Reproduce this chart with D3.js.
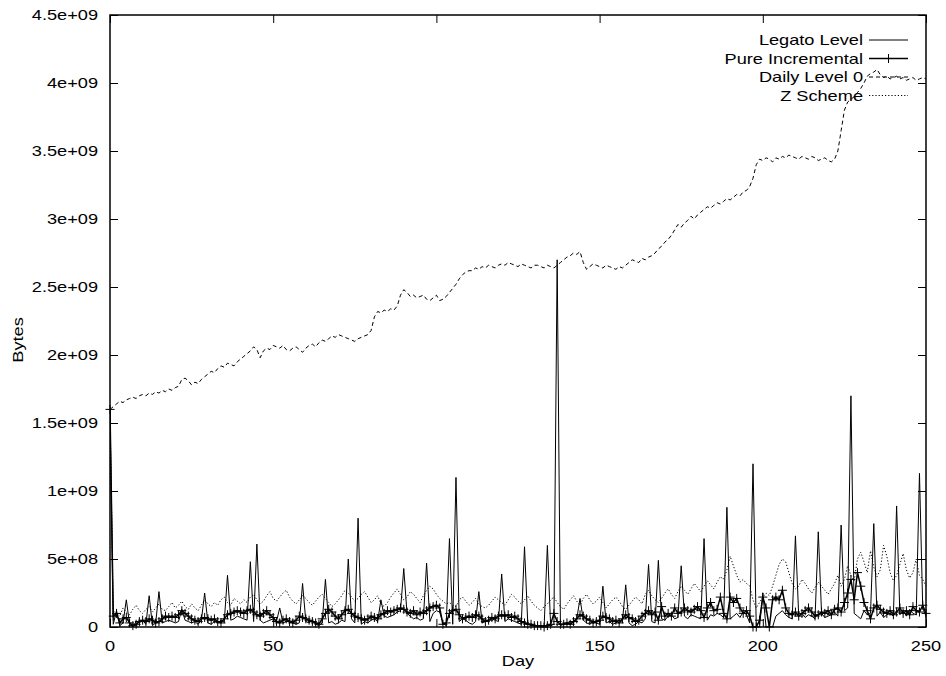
<!DOCTYPE html>
<html>
<head>
<meta charset="utf-8">
<script src="https://cdn.jsdelivr.net/npm/d3@7"></script>
<style>
  body { margin: 0; background: #fff; }
  text { font-family: "Liberation Sans", Arial, sans-serif; font-size: 14px; fill: #000; }
</style>
</head>
<body>
<svg id="chart" width="946" height="676"></svg>
<script>
// values in units of 1e7 bytes, one per day (day 0..250)
var UNIT = 1e7;

var legato = [
  158, 2, 12, 1, 3, 20, 2, 0, 4, 3, 5,
  2, 23, 1, 3, 26, 3, 4, 5, 4, 3,
  4, 13, 5, 4, 3, 4, 2, 5, 25, 3,
  2, 4, 3, 5, 4, 38, 5, 6, 8, 7,
  6, 5, 48, 4, 61, 5, 3, 4, 5, 6,
  4, 14, 3, 4, 5, 3, 2, 3, 32, 4,
  3, 5, 2, 1, 3, 35, 3, 4, 2, 3,
  5, 4, 50, 6, 3, 80, 2, 4, 3, 5,
  6, 4, 20, 8, 7, 8, 9, 11, 12, 43,
  10, 8, 6, 7, 5, 6, 47, 4, 10, 12,
  11, 3, 1, 65, 2, 110, 4, 6, 5, 3,
  2, 4, 26, 3, 4, 5, 6, 5, 4, 39,
  4, 6, 5, 4, 3, 2, 59, 2, 1, 1,
  0, 1, 0, 60, 1, 2, 270, 1, 2, 3,
  4, 3, 6, 21, 5, 3, 2, 4, 3, 2,
  30, 3, 4, 2, 3, 5, 4, 31, 3, 1,
  2, 4, 3, 6, 46, 4, 3, 49, 6, 5,
  8, 9, 6, 7, 45, 8, 6, 9, 8, 7,
  6, 65, 5, 9, 8, 10, 9, 7, 88, 6,
  8, 10, 7, 11, 9, 3, 120, 0, 0, 25,
  0, 0, 0, 8, 10, 12, 9, 7, 6, 67,
  8, 10, 7, 9, 8, 6, 70, 10, 7, 8,
  9, 11, 8, 75, 12, 14, 170, 10, 8, 6,
  12, 9, 10, 76, 8, 11, 7, 9, 10, 8,
  89, 9, 12, 8, 13, 10, 9, 113, 14, 8
];

var pureIncr = [
  160, 8, 10, 3, 6, 7, 3, 1, 2, 4, 5,
  4, 6, 5, 3, 4, 6, 8, 7, 8, 7,
  9, 12, 10, 8, 6, 5, 4, 6, 7, 6,
  5, 6, 4, 3, 6, 9, 10, 11, 12, 11,
  10, 12, 13, 11, 9, 8, 10, 12, 9, 7,
  4, 3, 5, 6, 4, 3, 5, 8, 7, 6,
  5, 4, 3, 2, 6, 10, 13, 11, 8, 6,
  9, 12, 13, 10, 8, 7, 6, 5, 6, 8,
  7, 6, 9, 10, 12, 11, 12, 13, 14, 13,
  11, 10, 12, 9, 11, 10, 12, 14, 15, 16,
  14, 2, 3, 10, 12, 13, 9, 6, 7, 8,
  7, 9, 8, 6, 4, 5, 7, 6, 8, 9,
  8, 9, 7, 8, 6, 4, 3, 2, 2, 1,
  1, 1, 0, 1, 2, 10, 4, 2, 2, 3,
  2, 4, 6, 9, 8, 6, 5, 3, 4, 5,
  8, 7, 6, 4, 5, 3, 6, 9, 7, 6,
  4, 5, 8, 10, 12, 9, 11, 5, 15, 8,
  10, 8, 14, 10, 11, 14, 12, 11, 13, 15,
  12, 7, 14, 18, 12, 13, 22, 10, 6, 22,
  18, 21, 14, 10, 12, 8, 0, 0, 5, 22,
  14, 0, 20, 22, 20, 27, 14, 10, 9, 11,
  8, 10, 12, 14, 11, 8, 9, 11, 10, 12,
  9, 13, 14, 11, 18, 25, 35, 20, 40, 30,
  18, 12, 6, 14, 16, 13, 11, 10, 12, 9,
  11, 14, 10, 12, 9, 15, 12, 11, 16, 10
];

var dailyL0 = [
  160, 162, 164, 166, 165, 167, 168, 169, 168, 170, 171,
  170, 172, 171, 173, 172, 174, 173, 175, 174, 176,
  177, 182, 183, 181, 178, 180, 179, 182, 184, 186,
  188, 187, 190, 192, 191, 194, 193, 192, 195, 197,
  199, 201, 203, 206, 204, 198, 203, 205, 204, 207,
  206, 205, 207, 204, 203, 205, 206, 204, 202, 205,
  207, 208, 206, 209, 211, 210, 212, 214, 213, 215,
  214, 213, 212, 211, 210, 212, 213, 214, 215, 218,
  228, 232, 231, 233, 232, 234, 233, 236, 244, 248,
  246, 243, 244, 242, 243, 244, 241, 240, 242, 244,
  240, 241, 243, 246, 249, 252, 256, 259, 261, 262,
  262, 264, 263, 265, 264, 266, 265, 264, 266, 267,
  266, 268, 267, 266, 265, 267, 266, 265, 264, 266,
  266, 265, 264, 266, 265, 264, 266, 268, 270, 272,
  273, 275, 274, 276, 268, 263, 265, 267, 266, 265,
  264, 266, 265, 264, 263, 265, 264, 266, 268, 270,
  269, 268, 271, 270, 272, 273, 275, 278, 280, 283,
  285, 288, 292, 296, 294, 297, 299, 302, 300, 303,
  305, 307, 309, 308, 310, 312, 311, 313, 315, 314,
  316, 318, 317, 320, 321, 324, 330, 340, 344, 343,
  345, 344, 342, 345, 344, 346, 345, 347, 346, 345,
  344, 346, 345, 344, 346, 345, 343, 344, 345, 343,
  342, 344, 350, 365, 380, 386, 388, 390, 393, 396,
  400, 405, 407, 408, 410, 406, 404, 405, 403, 404,
  405, 403, 404, 402, 403, 404, 402, 403, 404, 403
];

var zScheme = [
  160, 12, 10, 8, 14, 11, 9, 13, 16, 12, 10,
  13, 15, 11, 14, 17, 13, 12, 15, 18, 14,
  16, 19, 15, 13, 17, 14, 12, 16, 20, 17,
  15, 18, 16, 20, 22, 18, 16, 21, 19, 17,
  20, 18, 22, 24, 20, 17, 19, 23, 26, 21,
  19, 22, 25, 27, 22, 19, 17, 20, 23, 21,
  18, 16, 19, 22, 24, 21, 18, 15, 17, 20,
  23, 27, 25, 22, 19, 21, 24, 26, 22, 18,
  20, 23, 17, 15, 18, 22, 25, 28, 24, 20,
  22, 26, 24, 21, 18, 23, 27, 30, 28, 24,
  21, 19, 17, 18, 16, 15, 20, 22, 19, 16,
  18, 21, 17, 15, 14, 16, 19, 22, 20, 18,
  16, 20, 24, 22, 19, 17, 20, 23, 19, 16,
  14, 12, 15, 17, 20, 22, 18, 15, 13, 17,
  20, 23, 19, 16, 21, 24, 20, 17, 19, 22,
  18, 14, 17, 20, 22, 19, 15, 13, 16, 19,
  22, 20, 17, 24, 27, 23, 20, 18, 21, 25,
  28, 24, 21, 26, 30, 27, 24, 28, 32, 29,
  26, 30, 34, 31, 28, 33, 37, 35, 42, 52,
  45, 38, 33, 35, 32, 30, 20, 14, 18, 22,
  25, 23, 30, 38, 46, 50, 48, 40, 32, 28,
  30, 35, 32, 28, 25, 29, 33, 30, 27, 24,
  28, 32, 38, 30, 35, 45, 38, 34, 50, 55,
  48, 40, 56, 44, 37, 42, 60, 52, 40, 34,
  38, 46, 54, 42, 36, 40, 50, 38, 35, 30
];

var seriesNames = ["Legato Level", "Pure Incremental", "Daily Level 0", "Z Scheme"];
var xTicks = [0, 50, 100, 150, 200, 250];
var yTicks = [0, 5e8, 1e9, 1.5e9, 2e9, 2.5e9, 3e9, 3.5e9, 4e9, 4.5e9];
var yTickLabels = ["0", "5e+08", "1e+09", "1.5e+09", "2e+09", "2.5e+09", "3e+09", "3.5e+09", "4e+09", "4.5e+09"];

// plot box (note: "top" is taken by window.top, so plotX names)
var plotL = 110, plotR = 926, plotT = 15, plotB = 627;
var stretch = 1.3; // gnuplot's wide glyphs

var svg = d3.select("#chart");
var x = d3.scaleLinear().domain([0, 250]).range([plotL, plotR]);
var y = d3.scaleLinear().domain([0, 4.5e9]).range([plotB, plotT]);

function label(parent, px, py, str, anchor) {
  return parent.append("text")
    .attr("transform", "translate(" + px + "," + py + ") scale(" + stretch + ",1)")
    .attr("text-anchor", anchor)
    .text(str);
}

// ticks, inward, mirrored on all sides
var axisG = svg.append("g");
axisG.append("g").attr("transform", "translate(" + plotL + ",0)")
  .call(d3.axisLeft(y).tickValues(yTicks).tickSize(-8).tickFormat(""));
axisG.append("g").attr("transform", "translate(" + plotR + ",0)")
  .call(d3.axisRight(y).tickValues(yTicks).tickSize(-8).tickFormat(""));
axisG.append("g").attr("transform", "translate(0," + plotB + ")")
  .call(d3.axisBottom(x).tickValues(xTicks).tickSize(-8).tickFormat(""));
axisG.append("g").attr("transform", "translate(0," + plotT + ")")
  .call(d3.axisTop(x).tickValues(xTicks).tickSize(-8).tickFormat(""));
axisG.selectAll(".domain").remove();
axisG.selectAll(".tick line").attr("stroke", "#000").attr("stroke-width", 1);

yTicks.forEach(function (v, i) {
  label(svg, plotL - 12, y(v) + 5, yTickLabels[i], "end");
});
xTicks.forEach(function (v) {
  label(svg, x(v), plotB + 24, String(v), "middle");
});
label(svg, (plotL + plotR) / 2, 666, "Day", "middle");
svg.append("text")
  .attr("transform", "translate(23,340) rotate(-90) scale(" + stretch + ",1)")
  .attr("text-anchor", "middle")
  .text("Bytes");

// clip series to plot area
svg.append("clipPath").attr("id", "plotclip")
  .append("rect").attr("x", plotL).attr("y", plotT).attr("width", plotR - plotL).attr("height", plotB - plotT);

var line = d3.line()
  .x(function (d, i) { return x(i); })
  .y(function (d) { return y(d * UNIT); });

var plot = svg.append("g").attr("clip-path", "url(#plotclip)");

var styles = [
  { data: legato, dash: null, width: 1 },
  { data: pureIncr, dash: null, width: 1.5 },
  { data: dailyL0, dash: "4,3", width: 1 },
  { data: zScheme, dash: "1.2,2", width: 1 }
];

styles.forEach(function (s, k) {
  plot.append("path")
    .datum(s.data)
    .attr("d", line)
    .attr("fill", "none")
    .attr("stroke", "#000")
    .attr("stroke-width", s.width)
    .attr("stroke-dasharray", s.dash);
  if (k === 1) {
    var pts = svg.append("g");
    s.data.forEach(function (d, i) {
      var cx = x(i), cy = y(d * UNIT);
      pts.append("path")
        .attr("d", "M" + (cx - 4.5) + "," + cy + "H" + (cx + 4.5) + "M" + cx + "," + (cy - 4.5) + "V" + (cy + 4.5))
        .attr("stroke", "#000").attr("stroke-width", 1).attr("fill", "none");
    });
  }
});

// legend
var legend = svg.append("g");
seriesNames.forEach(function (name, i) {
  var ly = 40 + i * 18.5;
  label(legend, 863, ly + 5, name, "end");
  legend.append("line")
    .attr("x1", 869).attr("x2", 908).attr("y1", ly).attr("y2", ly)
    .attr("stroke", "#000").attr("stroke-width", i === 1 ? 1.5 : 1)
    .attr("stroke-dasharray", styles[i].dash);
  if (i === 1) {
    legend.append("path")
      .attr("d", "M884," + ly + "H893M888.5," + (ly - 4.5) + "V" + (ly + 4.5))
      .attr("stroke", "#000").attr("fill", "none");
  }
});

// frame
svg.append("rect")
  .attr("x", plotL).attr("y", plotT).attr("width", plotR - plotL).attr("height", plotB - plotT)
  .attr("fill", "none").attr("stroke", "#000").attr("stroke-width", 1.5);
</script>
</body>
</html>
